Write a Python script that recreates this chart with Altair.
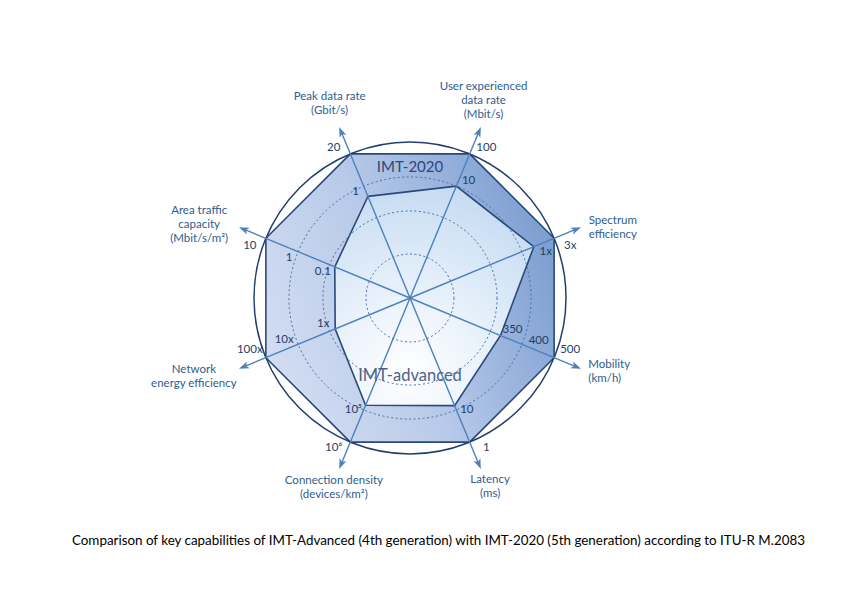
import math
import altair as alt
import pandas as pd

# ---------------- data ----------------
axis_names = ["Peak data rate", "User experienced data rate", "Spectrum efficiency", "Mobility",
              "Latency", "Connection density", "Network energy efficiency", "Area traffic capacity"]
axis_titles = ["Peak data rate\n(Gbit/s)", "User experienced\ndata rate\n(Mbit/s)", "Spectrum\nefficiency",
               "Mobility\n(km/h)", "Latency\n(ms)", "Connection density\n(devices/km²)",
               "Network\nenergy efficiency", "Area traffic\ncapacity\n(Mbit/s/m²)"]
imt2020_values = ["20", "100", "3x", "500", "1", "10⁶", "100x", "10"]
imtadv_values = ["1", "10", "1x", "350", "10", "10⁵", "1x", "0.1"]
# normalised score on each axis (IMT-2020 = 1)
imt2020_score = [1.0, 1.0, 1.0, 1.0, 1.0, 1.0, 1.0, 1.0]
imtadv_score = [0.705, 0.776, 0.859, 0.628, 0.747, 0.744, 0.519, 0.522]
mid_axis = [3, 6, 7]
mid_values = ["400", "10x", "1"]
mid_score = [0.81, 0.79, 0.756]
grid_levels = [0.282, 0.558, 0.776]
caption = ("Comparison of key capabilities of IMT-Advanced (4th generation) with IMT-2020 "
           "(5th generation) according to ITU-R M.2083")

# ---------------- layout ----------------
R = 156.0
W, H = 831, 512
CX, CY = 402, 290
LH = 14
label_side = [-1, 1, 1, -1, -1, 1, 1, -1]
title_r = [210, 210, 192, 193, 205, 205, 230, 223]
title_da = [0, -2, 1, 0, -0.5, -0.7, 2.5, -3.5]
title_align_left = [False, False, True, True, False, False, False, False]
FONT = "Lato"


def axis_angle(i):
    return -22.5 + 45 * i


def polar(r, a_deg):
    a = math.radians(a_deg)
    return r * math.sin(a), r * math.cos(a)


xs = alt.Scale(domain=[-CX, W - CX], range=[0, W], zero=False, nice=False)
ys = alt.Scale(domain=[-(H - CY), CY], range=[H, 0], zero=False, nice=False)
X = alt.X("x:Q", scale=xs, axis=None)
Y = alt.Y("y:Q", scale=ys, axis=None)


def poly_df(scores):
    rows = []
    for i, s in enumerate(scores):
        x, y = polar(s * R, axis_angle(i))
        rows.append({"idx": i, "x": x, "y": y})
    return pd.DataFrame(rows)


grad2020 = alt.LinearGradient(
    gradient="linear", x1=0, y1=0.7, x2=1, y2=0.3,
    stops=[alt.GradientStop(color="#d3ddf1", offset=0),
           alt.GradientStop(color="#b8cae9", offset=0.45),
           alt.GradientStop(color="#7b9dd0", offset=1)])
gradadv = alt.RadialGradient(
    gradient="radial", x1=0.38, y1=0.85, r1=0, x2=0.38, y2=0.85, r2=1.0,
    stops=[alt.GradientStop(color="#ffffff", offset=0),
           alt.GradientStop(color="#e6f0fa", offset=0.4),
           alt.GradientStop(color="#bcd5ef", offset=1)])

p2020 = alt.Chart(poly_df(imt2020_score)).mark_line(
    interpolate="linear-closed", fill=grad2020, stroke="#2a4879", strokeWidth=1.6
).encode(x=X, y=Y, order="idx:Q")
padv = alt.Chart(poly_df(imtadv_score)).mark_line(
    interpolate="linear-closed", fill=gradadv, stroke="#2a4879", strokeWidth=1.6
).encode(x=X, y=Y, order="idx:Q")

# rings
rings = pd.DataFrame({"x": [0.0] * 3, "y": [0.0] * 3,
                      "size": [(2 * g * R) ** 2 for g in grid_levels]})
ring_layer = alt.Chart(rings).mark_point(
    shape="circle", filled=False, stroke="#3f6fab", strokeWidth=1, strokeDash=[2, 2.5], opacity=1
).encode(x=X, y=Y, size=alt.Size("size:Q", scale=None))
outer = alt.Chart(pd.DataFrame({"x": [0.0], "y": [0.0], "size": [(2 * R) ** 2]})).mark_point(
    shape="circle", filled=False, stroke="#213e6c", strokeWidth=1.5, opacity=1
).encode(x=X, y=Y, size=alt.Size("size:Q", scale=None))

# axes
ax_rows = []
for i in range(8):
    x2, y2 = polar(178, axis_angle(i))
    hx, hy = polar(179, axis_angle(i))
    ax_rows.append({"x": 0.0, "y": 0.0, "x2": x2, "y2": y2, "hx": hx, "hy": hy,
                    "angle": axis_angle(i) % 360})
axdf = pd.DataFrame(ax_rows)
rules = alt.Chart(axdf).mark_rule(color="#4d80bd", strokeWidth=1.4).encode(
    x=X, y=Y, x2="x2:Q", y2="y2:Q")
heads = alt.Chart(axdf).mark_point(
    shape="M0,-1L0.6,0.65L0,0.25L-0.6,0.65Z", filled=True, color="#4d80bd", opacity=1
).encode(x=alt.X("hx:Q", scale=xs, axis=None), y=alt.Y("hy:Q", scale=ys, axis=None),
         angle=alt.Angle("angle:Q", scale=None), size=alt.value(150))

# value labels
lab_rows = []


def add_label(i, text, score, radial, lateral):
    a = math.radians(axis_angle(i))
    r = score * R + radial
    ux, uy = math.sin(a), math.cos(a)
    px, py = math.cos(a), -math.sin(a)
    s = label_side[i]
    lab_rows.append({"x": r * ux + s * lateral * px, "y": r * uy + s * lateral * py, "t": text})


for i in range(8):
    add_label(i, imt2020_values[i], imt2020_score[i], 12, 13)
    add_label(i, imtadv_values[i], imtadv_score[i], 9, 9.5)
for k, i in enumerate(mid_axis):
    add_label(i, mid_values[k], mid_score[k], 9, 9.5)
labels = alt.Chart(pd.DataFrame(lab_rows)).mark_text(
    font=FONT, fontSize=11.5, color="#1f3f66", align="center", baseline="middle"
).encode(x=X, y=Y, text="t:N")

# titles (block centred on the computed point)
tc, tl = [], []
for i in range(8):
    x, y = polar(title_r[i], axis_angle(i) + title_da[i])
    n = axis_titles[i].count("\n") + 1
    y += (n - 1) / 2 * LH
    (tl if title_align_left[i] else tc).append({"x": x, "y": y, "t": axis_titles[i]})
title_c = alt.Chart(pd.DataFrame(tc)).mark_text(
    font=FONT, fontSize=11.5, color="#2e5d8f", align="center", baseline="middle",
    lineBreak="\n", lineHeight=LH).encode(x=X, y=Y, text="t:N")
title_l = alt.Chart(pd.DataFrame(tl)).mark_text(
    font=FONT, fontSize=11.5, color="#2e5d8f", align="left", baseline="middle",
    lineBreak="\n", lineHeight=LH).encode(x=X, y=Y, text="t:N")

# series names
nx1, ny1 = polar(0.84 * R, 0)
nx2, ny2 = polar(0.5 * R, 180)
names = pd.DataFrame({"x": [nx1, nx2], "y": [ny1, ny2], "t": ["IMT-2020", "IMT-advanced"]})
name1 = alt.Chart(names.iloc[[0]]).mark_text(
    font=FONT, fontSize=15, fontWeight="normal", color="#2a4879", align="center", baseline="middle"
).encode(x=X, y=Y, text="t:N")
name2 = alt.Chart(names.iloc[[1]]).mark_text(
    font=FONT, fontSize=16.5, fontWeight="normal", color="#4a6289", align="center", baseline="middle"
).encode(x=X, y=Y, text="t:N")

chart = alt.layer(p2020, padv, ring_layer, outer, rules, heads, labels, title_c, title_l, name1, name2).properties(
    width=W, height=H, padding=0,
    title=alt.TitleParams(caption, orient="bottom", font=FONT, fontSize=13.4, fontWeight="normal",
                          color="#000000", offset=14, dx=15, anchor="middle")
).configure_view(stroke=None)

chart.save("out.html", embed_options={"renderer": "svg", "actions": False})
